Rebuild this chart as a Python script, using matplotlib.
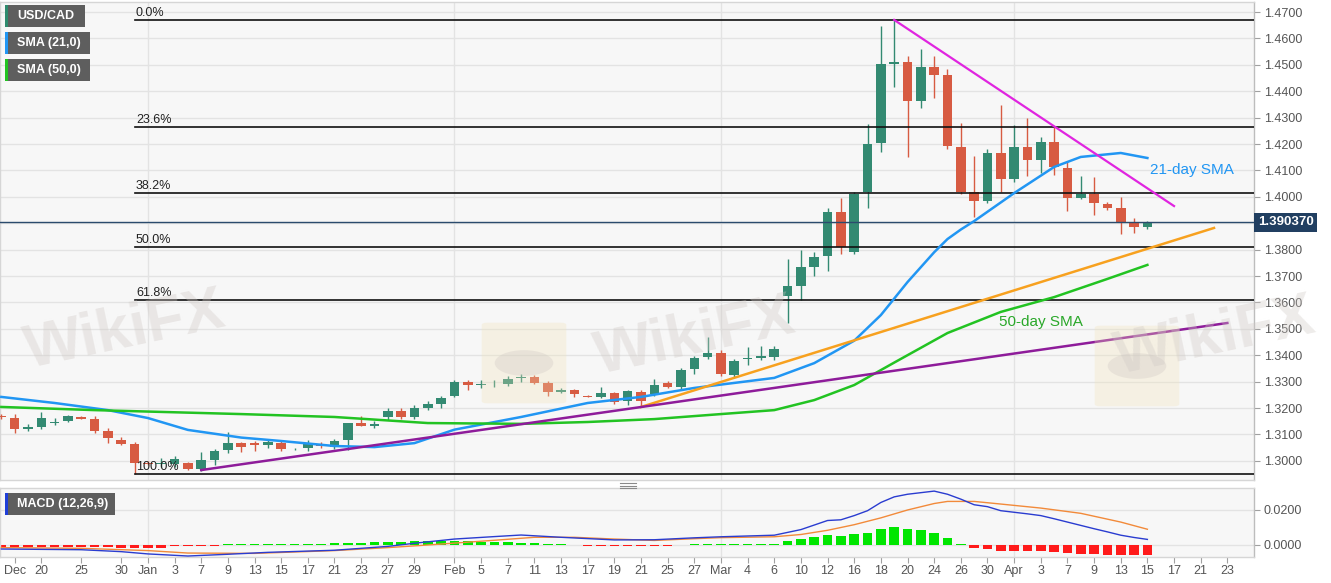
import matplotlib.pyplot as plt
import matplotlib.transforms as mtransforms
from matplotlib.patches import Rectangle, FancyBboxPatch, Circle
from matplotlib.lines import Line2D
import numpy as np

plt.rcParams['font.family'] = ['Liberation Sans', 'DejaVu Sans']

# ---- daily USD/CAD candles, index 0 = Dec 16 2019 ... index 87 = Apr 15 2020 ----
opens = [1.3160, 1.3168, 1.3162, 1.3120, 1.3127, 1.3145, 1.3151, 1.3166, 1.3160, 1.3114,
         1.3079, 1.3064, 1.2990, 1.2988, 1.2988, 1.2992, 1.2969, 1.3003, 1.3041, 1.3066,
         1.3067, 1.3060, 1.3067, 1.3044, 1.3048, 1.3065, 1.3052, 1.3079, 1.3143, 1.3132,
         1.3166, 1.3189, 1.3166, 1.3200, 1.3215, 1.3246, 1.3299, 1.3288, 1.3290, 1.3291,
         1.3315, 1.3318, 1.3295, 1.3261, 1.3268, 1.3246, 1.3242, 1.3257, 1.3227, 1.3261,
         1.3253, 1.3295, 1.3280, 1.3348, 1.3394, 1.3409, 1.3325, 1.3386, 1.3390, 1.3393,
         1.3624, 1.3662, 1.3734, 1.3776, 1.3942, 1.3791, 1.4018, 1.4204, 1.4503, 1.4511,
         1.4363, 1.4492, 1.4461, 1.4189, 1.4018, 1.3984, 1.4166, 1.4067, 1.4189, 1.4140,
         1.4208, 1.4109, 1.3995, 1.4011, 1.3973, 1.3958, 1.3901, 1.3886]
highs = [1.3180, 1.3178, 1.3177, 1.3138, 1.3185, 1.3164, 1.3172, 1.3169, 1.3170, 1.3126,
         1.3090, 1.3070, 1.2998, 1.3010, 1.3020, 1.2997, 1.3033, 1.3045, 1.3109, 1.3072,
         1.3074, 1.3080, 1.3080, 1.3048, 1.3078, 1.3072, 1.3082, 1.3145, 1.3170, 1.3150,
         1.3200, 1.3200, 1.3210, 1.3225, 1.3245, 1.3306, 1.3305, 1.3305, 1.3307, 1.3320,
         1.3330, 1.3326, 1.3302, 1.3275, 1.3272, 1.3250, 1.3280, 1.3262, 1.3270, 1.3268,
         1.3310, 1.3302, 1.3350, 1.3397, 1.3469, 1.3420, 1.3385, 1.3430, 1.3435, 1.3436,
         1.3764, 1.3798, 1.3790, 1.3957, 1.3995, 1.4018, 1.4276, 1.4647, 1.4670, 1.4533,
         1.4560, 1.4533, 1.4484, 1.4280, 1.4155, 1.4180, 1.4348, 1.4272, 1.4299, 1.4225,
         1.4265, 1.4136, 1.4079, 1.4074, 1.3980, 1.3999, 1.3920, 1.3907]
lows = [1.3140, 1.3158, 1.3105, 1.3112, 1.3122, 1.3137, 1.3148, 1.3158, 1.3105, 1.3069,
        1.3060, 1.2951, 1.2984, 1.2977, 1.2975, 1.2966, 1.2963, 1.2985, 1.3030, 1.3033,
        1.3038, 1.3050, 1.3036, 1.3040, 1.3036, 1.3050, 1.3045, 1.3041, 1.3130, 1.3125,
        1.3155, 1.3158, 1.3160, 1.3192, 1.3200, 1.3240, 1.3270, 1.3275, 1.3280, 1.3285,
        1.3300, 1.3290, 1.3245, 1.3255, 1.3242, 1.3240, 1.3238, 1.3215, 1.3210, 1.3204,
        1.3245, 1.3275, 1.3270, 1.3330, 1.3385, 1.3320, 1.3318, 1.3362, 1.3380, 1.3382,
        1.3522, 1.3610, 1.3700, 1.3720, 1.3785, 1.3785, 1.3958, 1.4170, 1.4416, 1.4151,
        1.4336, 1.4374, 1.4180, 1.4010, 1.3924, 1.3975, 1.4018, 1.4055, 1.4079, 1.4090,
        1.4083, 1.3946, 1.3990, 1.3931, 1.3950, 1.3859, 1.3862, 1.3878]
closes = [1.3165, 1.3166, 1.3120, 1.3127, 1.3162, 1.3147, 1.3168, 1.3160, 1.3114, 1.3087,
          1.3064, 1.2992, 1.2988, 1.2992, 1.3007, 1.2969, 1.3003, 1.3037, 1.3067, 1.3054,
          1.3060, 1.3071, 1.3044, 1.3045, 1.3067, 1.3055, 1.3075, 1.3143, 1.3132, 1.3138,
          1.3189, 1.3167, 1.3200, 1.3215, 1.3238, 1.3299, 1.3288, 1.3290, 1.3292, 1.3310,
          1.3318, 1.3295, 1.3261, 1.3268, 1.3253, 1.3242, 1.3257, 1.3223, 1.3265, 1.3227,
          1.3288, 1.3280, 1.3344, 1.3389, 1.3409, 1.3329, 1.3378, 1.3387, 1.3396, 1.3423,
          1.3662, 1.3734, 1.3772, 1.3942, 1.3810, 1.4011, 1.4200, 1.4503, 1.4511, 1.4363,
          1.4492, 1.4461, 1.4192, 1.4018, 1.3984, 1.4166, 1.4067, 1.4189, 1.4140, 1.4208,
          1.4113, 1.3995, 1.4011, 1.3977, 1.3958, 1.3905, 1.3886, 1.390370]
last_price = 1.390370

# moving averages (index, value)
sma21_idx = [1, 5, 9, 12, 15, 19, 22, 26, 29, 32, 35, 40, 45, 49, 53, 56, 59, 62, 65, 67,
             69, 71, 72, 73, 74, 77, 80, 82, 85, 87]
sma21_val = [1.3242, 1.3219, 1.3192, 1.3162, 1.3117, 1.3088, 1.3075, 1.3056, 1.3052, 1.3067,
             1.3118, 1.3166, 1.3219, 1.3242, 1.3276, 1.3295, 1.3314, 1.3370, 1.3455, 1.3552,
             1.3677, 1.3790, 1.3840, 1.3876, 1.3908, 1.4014, 1.4113, 1.4151, 1.4166, 1.4147]
sma50_idx = [1, 8, 19, 26, 33, 40, 45, 50, 55, 59, 62, 65, 68, 72, 76, 80, 84, 87]
sma50_val = [1.3204, 1.3192, 1.3177, 1.3166, 1.3143, 1.3140, 1.3147, 1.3158, 1.3177, 1.3192,
             1.3230, 1.3287, 1.3372, 1.3484, 1.3564, 1.3620, 1.3689, 1.3742]

# trend lines (index, price) pairs
down_line = ([68, 89], [1.4670, 1.3965])
up_line_short = ([49, 92], [1.3204, 1.3882])
up_line_long = ([16, 93], [1.2965, 1.3522])

# Fibonacci retracement between Dec 31 low and Mar 19 high
fib_high, fib_low = 1.4670, 1.2951
fib_ratios = [0.0, 0.236, 0.382, 0.5, 0.618, 1.0]
fib_labels = ['0.0%', '23.6%', '38.2%', '50.0%', '61.8%', '100.0%']

# MACD (12,26,9)
macd_idx = [1, 7, 10, 12, 15, 18, 21, 26, 30, 32, 35, 38, 40, 43, 47, 50, 53, 55, 59, 61,
            63, 64, 65, 66, 67, 68, 69, 70, 71, 72, 73, 74, 75, 76, 77, 78, 79, 80, 81, 82,
            83, 84, 85, 86, 87]
macd_val = [-0.0023, -0.0027, -0.0038, -0.0051, -0.0063, -0.0053, -0.0042, -0.0030, -0.0008, 0.0010,
            0.0034, 0.0048, 0.0057, 0.0044, 0.0029, 0.0030, 0.0041, 0.0047, 0.0056, 0.0088,
            0.0140, 0.0144, 0.0168, 0.0196, 0.0243, 0.0275, 0.0290, 0.0299, 0.0308, 0.0290,
            0.0262, 0.0230, 0.0219, 0.0196, 0.0187, 0.0178, 0.0168, 0.0150, 0.0131, 0.0112,
            0.0093, 0.0075, 0.0056, 0.0043, 0.0032]
signal_idx = [1, 7, 12, 15, 20, 26, 30, 33, 38, 41, 44, 47, 50, 53, 55, 59, 61, 63, 65, 67,
              69, 71, 72, 74, 76, 79, 82, 85, 87]
signal_val = [-0.0015, -0.0019, -0.0032, -0.0046, -0.0048, -0.0032, -0.0015, 0.0000, 0.0027, 0.0044,
              0.0044, 0.0034, 0.0026, 0.0036, 0.0042, 0.0047, 0.0060, 0.0084, 0.0116, 0.0155,
              0.0200, 0.0237, 0.0249, 0.0249, 0.0234, 0.0211, 0.0181, 0.0131, 0.0090]
hist = [-0.0017, -0.0016, -0.0012, -0.0011, -0.0011, -0.0010, -0.0010, -0.0011, -0.0012, -0.0014,
        -0.0017, -0.0018, -0.0017, -0.0015, -0.0008, -0.0006, -0.0004, -0.0003,
        0.0003, 0.0004, 0.0004, 0.0005, 0.0005, 0.0006, 0.0007, 0.0008, 0.0009, 0.0011, 0.0012, 0.0015,
        0.0017, 0.0019, 0.0020, 0.0021, 0.0021, 0.0020, 0.0020, 0.0019, 0.0018, 0.0016, 0.0014, 0.0011,
        0.0007, 0.0004, -0.0002, -0.0004, -0.0006, -0.0007, -0.0007, -0.0007, -0.0006, -0.0004,
        0.0002, 0.0004, 0.0003, 0.0003, 0.0003, 0.0003, 0.0004, 0.0004,
        0.0024, 0.0036, 0.0043, 0.0056, 0.0050, 0.0060, 0.0071, 0.0092, 0.0101, 0.0090, 0.0084, 0.0071,
        0.0041, 0.0007,
        -0.0019, -0.0024, -0.0034, -0.0036, -0.0036, -0.0034, -0.0039, -0.0047, -0.0050, -0.0054,
        -0.0056, -0.0060, -0.0060, -0.0060]

# x-axis labels (trading-day index, text)
tick_pos = [2, 4, 7, 10, 12, 14, 16, 18, 20, 22, 24, 26, 28, 30, 32, 35, 37, 39, 41, 43, 45, 47,
            49, 51, 53, 55, 57, 59, 61, 63, 65, 67, 69, 71, 73, 75, 77, 79, 81, 83, 85, 87, 89,
            91, 93]
tick_txt = ['Dec', '20', '25', '30', 'Jan', '3', '7', '9', '13', '15', '17', '21', '23', '27', '29',
            'Feb', '5', '7', '11', '13', '17', '19', '21', '25', '27', 'Mar', '4', '6', '10', '12',
            '16', '18', '20', '24', '26', '30', 'Apr', '3', '7', '9', '13', '15', '17', '21', '23']
month_starts = [12, 35, 55, 77]

# ---- styling ----
UP, DOWN = '#338a72', '#d75b42'
BG = '#f7f7f7'
GRID = '#e3e3e3'
W, H = 1331, 583

fig = plt.figure(figsize=(W / 100, H / 100), dpi=100)
fig.patch.set_facecolor('white')

ax = fig.add_axes([0, 1 - 480 / H, 1254 / W, 478 / H])
ax2 = fig.add_axes([0, 1 - 557 / H, 1254 / W, 69 / H])

xlim = (0.9, 95.0)
for a in (ax, ax2):
    a.set_facecolor(BG)
    a.set_xlim(*xlim)
    for s in a.spines.values():
        s.set_color('#d6d6d6')
        s.set_linewidth(1)
    a.spines['right'].set_color('#bdbdbd')
    a.yaxis.tick_right()
    a.tick_params(axis='y', length=4, color='#a0a0a0', labelcolor='#555555',
                  labelsize=9, pad=3)
    for m in month_starts:
        a.axvline(m, color=GRID, lw=1, zorder=0)

# ---- main price panel ----
ax.set_ylim(1.29273, 1.47379)
yt = [round(1.30 + 0.01 * k, 2) for k in range(18)]
ax.set_yticks([v for v in yt if abs(v - 1.39) > 0.001])
ax.set_yticklabels(['%.4f' % v for v in yt if abs(v - 1.39) > 0.001])
for v in yt:
    ax.axhline(v, color=GRID, lw=1, zorder=0)
ax.set_xticks([])

idx = np.arange(len(closes))
o = np.array(opens)
c = np.array(closes)
colors = [UP if cc >= oo else DOWN for oo, cc in zip(o, c)]
ax.vlines(idx, lows, highs, colors=colors, lw=1, zorder=3)
body = np.abs(c - o)
hmin = 0.0003
bh = np.maximum(body, hmin)
bottom = np.minimum(o, c) - (bh - body) / 2
ax.bar(idx, bh, bottom=bottom, width=0.72, color=colors, zorder=3, linewidth=0)

# fibonacci levels
for r, lab in zip(fib_ratios, fib_labels):
    lvl = fib_high - r * (fib_high - fib_low)
    ax.plot([11, xlim[1]], [lvl, lvl], color='#111111', lw=1.2, zorder=3.5)
    ax.text(11.1, lvl + 0.0004, lab, fontsize=9, color='#222222', va='bottom', ha='left',
            zorder=5)

# current price line + label
ax.axhline(last_price, color='#2b4b6d', lw=1, zorder=3.6)
trans = mtransforms.blended_transform_factory(ax.transAxes, ax.transData)
ax.text(1.003, last_price, '%.6f' % last_price, transform=trans, ha='left', va='center',
        color='white', fontsize=9.5, fontweight='bold', clip_on=False, zorder=10,
        bbox=dict(boxstyle='square,pad=0.28', fc='#213f61', ec='none'))

# moving averages
ax.plot(sma21_idx, sma21_val, color='#2196f3', lw=1.8, zorder=4)
ax.plot(sma50_idx, sma50_val, color='#22c322', lw=1.8, zorder=4)

# trend lines
ax.plot(*down_line, color='#e025e0', lw=1.6, zorder=4)
ax.plot(*up_line_short, color='#f7a11f', lw=1.8, zorder=4)
ax.plot(*up_line_long, color='#8e1c9a', lw=1.8, zorder=4)

ax.text(87.2, 1.4101, '21-day SMA', color='#2196f3', fontsize=11, va='center', zorder=5)
ax.text(75.9, 1.3526, '50-day SMA', color='#2aa82a', fontsize=11, va='center', zorder=5)

# ---- MACD panel ----
ax2.set_ylim(-0.00686, 0.03257)
ax2.set_yticks([0.0, 0.02])
ax2.set_yticklabels(['0.0000', '0.0200'])
for v in (0.0, 0.02):
    ax2.axhline(v, color=GRID, lw=1, zorder=0)
hcol = ['#00e600' if h >= 0 else '#ff1a1a' for h in hist]
ax2.bar(np.arange(len(hist)), hist, width=0.72, color=hcol, linewidth=0, zorder=2)
ax2.plot(signal_idx, signal_val, color='#f28a3a', lw=1, zorder=3)
ax2.plot(macd_idx, macd_val, color='#2a3cd0', lw=1, zorder=3)
ax2.set_xticks(tick_pos)
ax2.set_xticklabels(tick_txt)
ax2.tick_params(axis='x', length=4, color='#a0a0a0', labelcolor='#555555', labelsize=9, pad=2)

# ---- legend tags ----
def tag(x0, y0, w, h, text, stripe):
    fig.add_artist(Rectangle((x0 / W, 1 - (y0 + h) / H), w / W, h / H,
                             transform=fig.transFigure, fc='#5e5e5e', ec='none', zorder=20))
    fig.add_artist(Rectangle((x0 / W, 1 - (y0 + h) / H), 3 / W, h / H,
                             transform=fig.transFigure, fc=stripe, ec='none', zorder=21))
    fig.text((x0 + 12) / W, 1 - (y0 + h / 2) / H, text, color='white', fontsize=9,
             fontweight='bold', va='center', ha='left', zorder=22)

tag(5, 5, 80, 22, 'USD/CAD', '#2e8b6e')
tag(5, 32, 85, 22, 'SMA (21,0)', '#2196f3')
tag(5, 59, 85, 22, 'SMA (50,0)', '#22c322')
tag(5, 493, 110, 22, 'MACD (12,26,9)', '#1f3fd8')

# panel separator grip
for yy in (483, 485.5, 488):
    fig.add_artist(Line2D([620 / W, 636 / W], [1 - yy / H, 1 - yy / H],
                          transform=fig.transFigure, color='#8a8a8a', lw=0.8))

# ---- faint watermarks ----
for (lx, ly) in [(487, 325), (1100, 328)]:
    fig.add_artist(FancyBboxPatch((lx / W, 1 - (ly + 76) / H), 74 / W, 76 / H,
                                  boxstyle='round,pad=0.004', transform=fig.transFigure,
                                  fc='#f1e3b8', ec='none', alpha=0.3, zorder=6))
    fig.add_artist(Circle(((lx + 37) / W, 1 - (ly + 38) / H), 0.022,
                          transform=fig.transFigure, fc='#cbc3bf', ec='none', alpha=0.3,
                          zorder=6))
for (tx, ty) in [(125, 332), (695, 338), (1215, 338)]:
    fig.text(tx / W, 1 - ty / H, 'WikiFX', fontsize=44, fontweight='bold', color='#cfc8c4',
             alpha=0.35, rotation=12, ha='center', va='center', zorder=6)

fig.savefig('out.png', dpi=100)
